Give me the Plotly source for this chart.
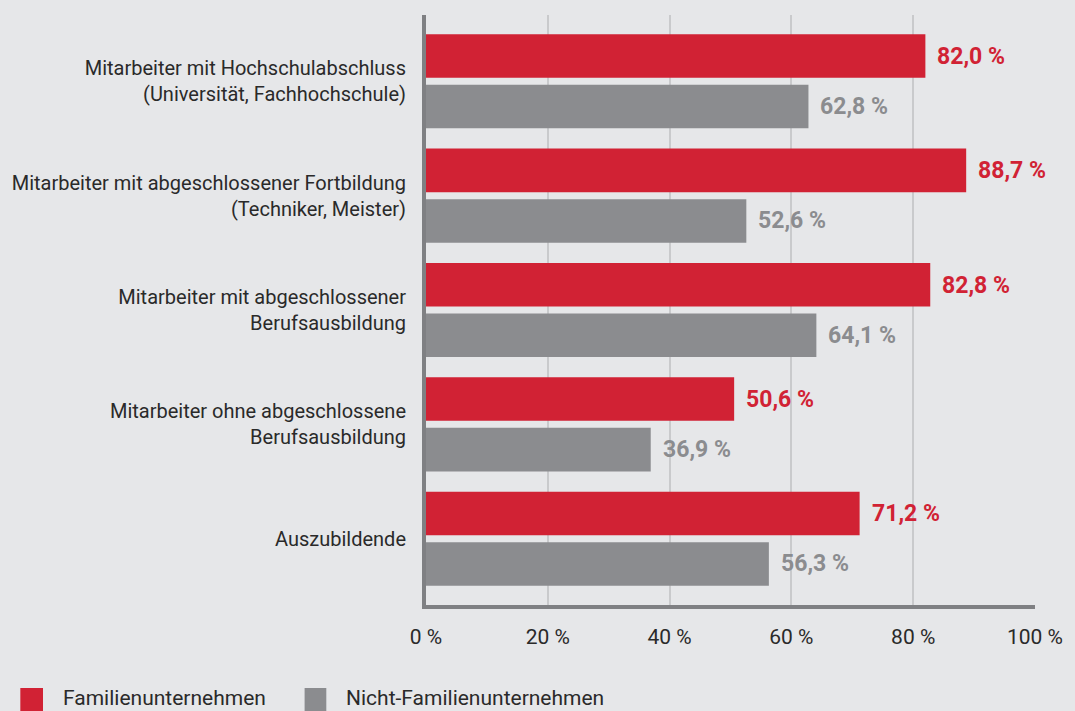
import plotly.graph_objects as go

categories = [
    "Mitarbeiter mit Hochschulabschluss<br>(Universität, Fachhochschule)",
    "Mitarbeiter mit abgeschlossener Fortbildung<br>(Techniker, Meister)",
    "Mitarbeiter mit abgeschlossener<br>Berufsausbildung",
    "Mitarbeiter ohne abgeschlossene<br>Berufsausbildung",
    "Auszubildende",
]
familien = [82.0, 88.7, 82.8, 50.6, 71.2]
nicht_familien = [62.8, 52.6, 64.1, 36.9, 56.3]
series_names = ["Familienunternehmen", "Nicht-Familienunternehmen"]
tick_vals = [0, 20, 40, 60, 80, 100]
tick_text = ["0 %", "20 %", "40 %", "60 %", "80 %", "100 %"]

RED = "#d12234"
GRAY = "#8b8c8f"
BG = "#e6e7e9"
FONT = "Roboto, Open Sans, sans-serif"
TXT = "#2a2a2a"

fig = go.Figure()
fig.add_trace(go.Bar(y=categories, x=familien, orientation="h", marker_color=RED,
                     marker_line_width=0, name=series_names[0], showlegend=False,
                     hoverinfo="skip"))
fig.add_trace(go.Bar(y=categories, x=nicht_familien, orientation="h", marker_color=GRAY,
                     marker_line_width=0, name=series_names[1], showlegend=False,
                     hoverinfo="skip"))

def fmt(v):
    return f"{v:.1f}".replace(".", ",") + " %"

annotations = []
for c, v in zip(categories, familien):
    annotations.append(dict(x=v, y=c, xref="x", yref="y", text=fmt(v), showarrow=False,
                            xanchor="left", yanchor="middle", xshift=10, yshift=25,
                            font=dict(family=FONT, size=23, color=RED, weight="bold")))
for c, v in zip(categories, nicht_familien):
    annotations.append(dict(x=v, y=c, xref="x", yref="y", text=fmt(v), showarrow=False,
                            xanchor="left", yanchor="middle", xshift=10, yshift=-25,
                            font=dict(family=FONT, size=23, color=GRAY, weight="bold")))

# legend (manual)
plot_l, plot_r, plot_b, plot_t = 422, 1039, 605, 15
plot_w = plot_r - plot_l
plot_h = plot_b - plot_t
def px_x(p):
    return (p - plot_l) / plot_w
def px_y(p):
    return (plot_b - p) / plot_h

shapes = [
    dict(type="rect", xref="paper", yref="paper", x0=px_x(11), x1=px_x(34),
         y0=px_y(712), y1=px_y(688), fillcolor=RED, line_width=0),
    dict(type="rect", xref="paper", yref="paper", x0=px_x(299), x1=px_x(321),
         y0=px_y(712), y1=px_y(688), fillcolor=GRAY, line_width=0),
]
annotations.append(dict(x=px_x(52), y=px_y(698), xref="paper", yref="paper",
                        text=series_names[0], showarrow=False, xanchor="left", yanchor="middle",
                        font=dict(family=FONT, size=21, color=TXT)))
annotations.append(dict(x=px_x(339), y=px_y(698), xref="paper", yref="paper",
                        text=series_names[1], showarrow=False, xanchor="left", yanchor="middle",
                        font=dict(family=FONT, size=21, color=TXT)))

fig.update_layout(
    width=1075, height=711,
    margin=dict(l=plot_l, r=1075 - plot_r, t=plot_t, b=711 - plot_b, pad=0),
    paper_bgcolor=BG, plot_bgcolor=BG,
    barmode="group", bargap=0.116, bargroupgap=0.138,
    font=dict(family=FONT, size=20, color=TXT),
    annotations=annotations, shapes=shapes,
    showlegend=False,
)
fig.update_xaxes(range=[0, 100], tickvals=tick_vals, ticktext=tick_text,
                 showgrid=True, gridcolor="#c9cacc", gridwidth=2,
                 showline=True, linecolor="#7f8083", linewidth=4,
                 zeroline=False, ticks="", ticklabelstandoff=10,
                 tickfont=dict(family=FONT, size=21, color=TXT))
fig.update_yaxes(range=[4.58, -0.58], showgrid=False, showline=True,
                 linecolor="#7f8083", linewidth=4, ticks="", ticklabelstandoff=12,
                 tickfont=dict(family=FONT, size=20, color=TXT))

fig.write_html("out.html", config={"displayModeBar": False, "staticPlot": True},
               post_script="document.body.style.margin='0px';document.body.style.overflow='hidden';")
